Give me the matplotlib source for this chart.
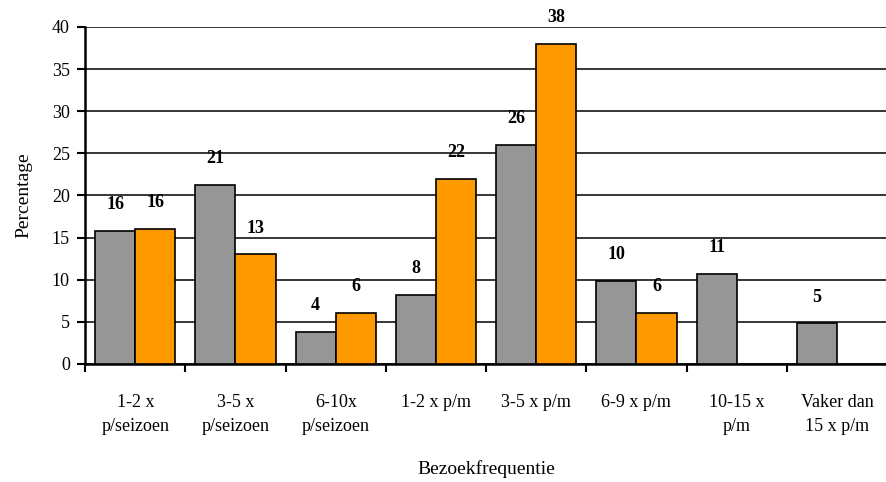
import matplotlib.pyplot as plt
import numpy as np

categories = ["1-2 x\np/seizoen", "3-5 x\np/seizoen", "6-10x\np/seizoen", "1-2 x p/m",
              "3-5 x p/m", "6-9 x p/m", "10-15 x\np/m", "Vaker dan\n15 x p/m"]
grey_vals = [15.8, 21.3, 3.8, 8.2, 26.0, 9.8, 10.7, 4.8]
grey_labels = ["16", "21", "4", "8", "26", "10", "11", "5"]
orange_vals = [16.0, 13.0, 6.0, 22.0, 38.0, 6.0, None, None]
orange_labels = ["16", "13", "6", "22", "38", "6", None, None]

plt.rcParams['font.family'] = ['Liberation Serif', 'DejaVu Serif']

fig = plt.figure(figsize=(8.87, 4.82), dpi=100)
ax = fig.add_axes([0.096, 0.245, 0.904, 0.699])

x = np.arange(len(categories))
w = 0.4

for i in range(len(categories)):
    ax.bar(x[i] - w / 2, grey_vals[i], w, color='#969696', edgecolor='black', linewidth=1.2, zorder=3)
    ax.annotate(grey_labels[i], (x[i] - w / 2, grey_vals[i]), xytext=(0, 19), textcoords='offset points',
                ha='center', va='center', fontsize=13, fontweight='bold')
    if orange_vals[i] is not None:
        ax.bar(x[i] + w / 2, orange_vals[i], w, color='#ff9900', edgecolor='black', linewidth=1.2, zorder=3)
        ax.annotate(orange_labels[i], (x[i] + w / 2, orange_vals[i]), xytext=(0, 19), textcoords='offset points',
                    ha='center', va='center', fontsize=13, fontweight='bold')

ax.set_xlim(-0.5, len(categories) - 0.5)
ax.set_ylim(0, 40)
ax.set_yticks(range(0, 41, 5))
ax.yaxis.grid(True, color='black', linewidth=1.1, zorder=0)
ax.set_axisbelow(True)

ax.set_xticks(x)
ax.set_xticklabels(categories, fontsize=13, linespacing=1.5)
ax.set_xticks(np.arange(-0.5, len(categories), 1), minor=True)
ax.tick_params(axis='x', which='major', length=0, pad=22)
ax.tick_params(axis='x', which='minor', length=6, width=1.5, direction='out')
ax.tick_params(axis='y', length=6, width=1.5, labelsize=13, pad=5)

for s in ['top', 'right']:
    ax.spines[s].set_visible(False)
ax.spines['left'].set_linewidth(1.8)
ax.spines['bottom'].set_linewidth(1.8)

ax.set_ylabel("Percentage", fontsize=14, labelpad=14)
ax.set_xlabel("Bezoekfrequentie", fontsize=14, labelpad=18)

fig.savefig("out.png", dpi=100)
